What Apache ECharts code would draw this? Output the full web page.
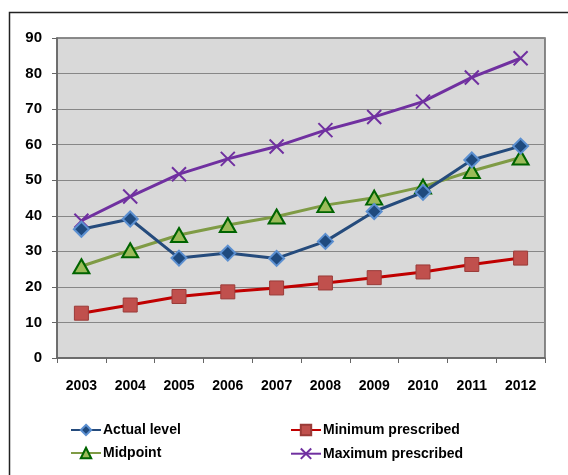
<!DOCTYPE html>
<html>
<head>
<meta charset="utf-8">
<script src="https://cdn.jsdelivr.net/npm/echarts@6/dist/echarts.min.js"></script>
<style>
  html, body { margin: 0; padding: 0; background: #fff; }
  #main { width: 568px; height: 475px; }
</style>
</head>
<body>
<div id="main"></div>
<script>
var years = ['2003', '2004', '2005', '2006', '2007', '2008', '2009', '2010', '2011', '2012'];

var actualLevel = [36.2, 39.1, 28.1, 29.5, 28.0, 32.8, 41.2, 46.6, 55.7, 59.6];
var midpoint = [25.8, 30.3, 34.6, 37.4, 39.8, 43.0, 45.1, 48.2, 52.6, 56.4];
var minPrescribed = [12.6, 14.9, 17.3, 18.6, 19.7, 21.1, 22.6, 24.2, 26.3, 28.1];
var maxPrescribed = [38.6, 45.4, 51.7, 56.0, 59.5, 64.1, 67.8, 72.1, 78.9, 84.3];

var font = "'Liberation Sans Narrow', 'Arial Narrow', 'Liberation Sans', Arial, sans-serif";
var xPath = 'path://M0,0L10,10M10,0L0,10';

var legendText = { fontFamily: font, fontWeight: 'bold', fontSize: 14, color: '#000', padding: [0, 0, 0, -3] };

var option = {
    backgroundColor: '#fff',
    animation: false,
    graphic: [{
        type: 'rect',
        shape: { x: 9.5, y: 12.5, width: 600, height: 500 },
        style: { fill: 'none', stroke: '#222', lineWidth: 1.5 },
        z: -1
    }],
    grid: {
        left: 57,
        top: 38,
        right: 23,
        bottom: 117,
        show: true,
        backgroundColor: '#d9d9d9',
        borderColor: '#666',
        borderWidth: 1.5
    },
    legend: [{
        data: ['Actual level', 'Midpoint'],
        orient: 'vertical',
        left: 65,
        top: 418,
        itemWidth: 30,
        itemHeight: 13,
        itemGap: 9,
        textStyle: legendText
    }, {
        data: ['Minimum prescribed', 'Maximum prescribed'],
        orient: 'vertical',
        left: 285,
        top: 418,
        itemWidth: 30,
        itemHeight: 13,
        itemGap: 9,
        textStyle: legendText
    }],
    xAxis: {
        type: 'category',
        data: years,
        boundaryGap: true,
        axisLine: { lineStyle: { color: '#666', width: 1.5 } },
        axisTick: { show: true, length: 5, lineStyle: { color: '#666' } },
        axisLabel: { margin: 21, fontFamily: font, fontWeight: 'bold', fontSize: 14, color: '#000' }
    },
    yAxis: {
        type: 'value',
        min: 0,
        max: 90,
        interval: 10,
        axisLine: { show: true, lineStyle: { color: '#666', width: 1.5 } },
        axisTick: { show: true, length: 5, lineStyle: { color: '#666' } },
        axisLabel: { margin: 15, fontFamily: font, fontWeight: 'bold', fontSize: 15, color: '#000' },
        splitLine: { lineStyle: { color: '#878787', width: 1.2 } }
    },
    series: [{
        name: 'Actual level',
        type: 'line',
        data: actualLevel,
        symbol: 'diamond',
        symbolSize: 15,
        lineStyle: { color: '#254b7c', width: 3 },
        itemStyle: { color: '#1f4a7e', borderColor: '#5b8fd0', borderWidth: 2 },
        z: 4
    }, {
        name: 'Minimum prescribed',
        type: 'line',
        data: minPrescribed,
        symbol: 'rect',
        symbolSize: 14,
        lineStyle: { color: '#c00000', width: 3 },
        itemStyle: { color: '#c0504d', borderColor: '#9a3b38', borderWidth: 1 },
        z: 3
    }, {
        name: 'Midpoint',
        type: 'line',
        data: midpoint,
        symbol: 'triangle',
        symbolSize: [16, 14],
        lineStyle: { color: '#7f9b45', width: 3 },
        itemStyle: { color: '#9bbb59', borderColor: '#006400', borderWidth: 2 },
        z: 3
    }, {
        name: 'Maximum prescribed',
        type: 'line',
        data: maxPrescribed,
        symbol: xPath,
        symbolSize: 14,
        lineStyle: { color: '#7030a0', width: 3 },
        itemStyle: { color: 'none', borderColor: '#7030a0', borderWidth: 2 },
        z: 3
    }]
};

var myChart = echarts.init(document.getElementById('main'));
myChart.setOption(option);
</script>
</body>
</html>
